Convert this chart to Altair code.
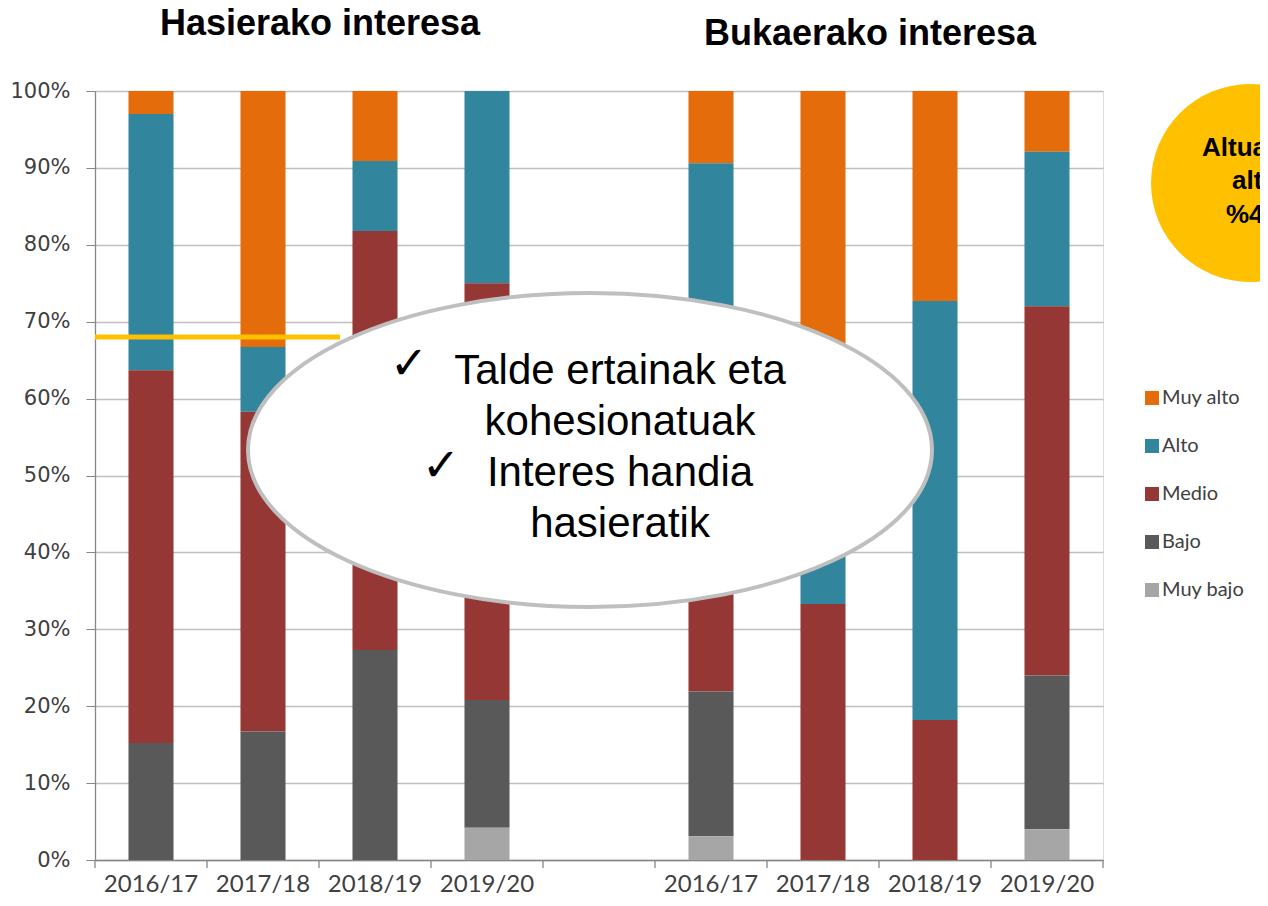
import altair as alt
import pandas as pd

# ---- data (percent of students per interest level) ----
slots = ["A 2016/17", "A 2017/18", "A 2018/19", "A 2019/20", "gap",
         "B 2016/17", "B 2017/18", "B 2018/19", "B 2019/20"]
levels = ["Muy alto", "Alto", "Medio", "Bajo", "Muy bajo"]
colors = ["#E46C0A", "#31859C", "#953735", "#595959", "#A6A6A6"]

muy_bajo = [0.0, 0.0, 0.0, 4.2, 0.0, 3.1, 0.0, 0.0, 4.0]
bajo = [15.2, 16.7, 27.3, 16.6, 0.0, 18.8, 0.0, 0.0, 20.0]
medio = [48.5, 41.6, 54.5, 54.2, 0.0, 28.1, 33.3, 18.2, 48.0]
alto = [33.3, 8.4, 9.1, 25.0, 0.0, 40.6, 33.4, 54.5, 20.1]
muy_alto = [3.0, 33.3, 9.1, 0.0, 0.0, 9.4, 33.3, 27.3, 7.9]

threshold = [0.68]
titles = ["Hasierako interesa", "Bukaerako interesa"]
bubble_text = "Talde ertainak eta\nkohesionatuak\nInteres handia\nhasieratik"
circle_lines = ["Altua eta oso", "altua", "%45"]

series = {"Muy alto": muy_alto, "Alto": alto, "Medio": medio, "Bajo": bajo, "Muy bajo": muy_bajo}
rank = {"Muy bajo": 0, "Bajo": 1, "Medio": 2, "Alto": 3, "Muy alto": 4}
rows = []
for lev, vals in series.items():
    for s, v in zip(slots, vals):
        rows.append({"slot": s, "level": lev, "value": v / 100.0, "rank": rank[lev]})
df = pd.DataFrame(rows)

W, H = 1008, 769
xscale = alt.Scale(domain=slots, paddingInner=0.598, paddingOuter=0.299)

bars = alt.Chart(df).mark_bar().encode(
    x=alt.X("slot:N", scale=xscale, sort=slots,
            axis=alt.Axis(title=None, labelExpr="datum.value == 'gap' ? '' : substring(datum.value, 2)",
                          ticks=False, grid=False, labelAngle=0, labelFont="Lato", labelFontSize=24,
                          labelColor="#404040", labelPadding=12, domainColor="#868686", domainWidth=1.3)),
    y=alt.Y("value:Q", stack="zero", scale=alt.Scale(domain=[0, 1]),
            axis=alt.Axis(title=None, values=[i / 10 for i in range(11)], format=".0%",
                          labelFont="DejaVu Sans", labelFontSize=21, labelColor="#404040",
                          tickSize=9, tickColor="#868686", domainColor="#868686", domainWidth=1.3,
                          gridColor="#BFBFBF", gridWidth=1.3, labelPadding=16)),
    color=alt.Color("level:N", scale=alt.Scale(domain=levels, range=colors),
                    legend=alt.Legend(orient="none", legendX=1047, legendY=297, title=None,
                                      symbolType="square", symbolSize=196, symbolStrokeWidth=0,
                                      labelFont="Lato", labelFontSize=20, labelColor="#404040",
                                      rowPadding=28, labelOffset=0)),
    order=alt.Order("rank:Q", sort="ascending"),
)

slot_df = pd.DataFrame({"slot": slots})
ticks_left = alt.Chart(slot_df).mark_rule(xOffset=-56, color="#868686", strokeWidth=1.3).encode(
    x=alt.X("slot:N", scale=xscale, sort=slots), y=alt.value(H), y2=alt.value(H + 8))
ticks_right = alt.Chart(slot_df.tail(1)).mark_rule(xOffset=56, color="#868686", strokeWidth=1.3).encode(
    x=alt.X("slot:N", scale=xscale, sort=slots), y=alt.value(H), y2=alt.value(H + 8))

line = alt.Chart(pd.DataFrame({"v": threshold})).mark_rule(color="#FFC000", strokeWidth=5).encode(
    y=alt.Y("v:Q"), x=alt.value(0), x2=alt.value(245))

ellipse_path = "M -1 0 A 1 0.459 0 1 0 1 0 A 1 0.459 0 1 0 -1 0 Z"
ellipse = alt.Chart(pd.DataFrame({"k": [0]})).mark_point(
    shape=ellipse_path, size=684 ** 2, filled=True, fill="white", stroke="#BFBFBF",
    strokeWidth=4, opacity=1).encode(x=alt.value(495), y=alt.value(359))

etext = alt.Chart(pd.DataFrame({"t": [bubble_text]})).mark_text(
    font="Liberation Sans", fontSize=42, color="black", lineBreak="\n", lineHeight=51,
    align="center", baseline="middle").encode(text="t:N", x=alt.value(525), y=alt.value(280))

check1 = alt.Chart(pd.DataFrame({"t": ["✓"]})).mark_text(
    font="DejaVu Sans", fontSize=46, color="black", align="center", baseline="middle").encode(
    text="t:N", x=alt.value(314), y=alt.value(274))
check2 = alt.Chart(pd.DataFrame({"t": ["✓"]})).mark_text(
    font="DejaVu Sans", fontSize=46, color="black", align="center", baseline="middle").encode(
    text="t:N", x=alt.value(346), y=alt.value(376))

circle = alt.Chart(pd.DataFrame({"k": [0]})).mark_point(
    shape="circle", size=198 ** 2, filled=True, color="#FFC000", opacity=1).encode(
    x=alt.value(1155), y=alt.value(92))

ctexts = []
for txt, xx, yy in zip(circle_lines, [1107, 1137, 1131], [57, 90, 124]):
    ctexts.append(alt.Chart(pd.DataFrame({"t": [txt]})).mark_text(
        font="Liberation Sans", fontWeight="bold", fontSize=26, color="black",
        align="left", baseline="middle").encode(text="t:N", x=alt.value(xx), y=alt.value(yy)))

title_layers = []
for txt, xx, yy in zip(titles, [225, 775], [-67, -57]):
    title_layers.append(alt.Chart(pd.DataFrame({"t": [txt]})).mark_text(
        font="Liberation Sans", fontWeight="bold", fontSize=36, color="black",
        align="center", baseline="middle").encode(text="t:N", x=alt.value(xx), y=alt.value(yy)))

chart = alt.layer(bars, ticks_left, ticks_right, line, ellipse, etext, check1, check2,
                  circle, *ctexts, *title_layers).properties(
    width=W, height=H,
    autosize=alt.AutoSizeParams(type="none"),
    padding={"left": 87, "top": 83, "right": 157, "bottom": 38},
).configure_view(stroke=None).configure(background="white")

chart.save("out.html", embed_options={"renderer": "svg", "actions": False})
